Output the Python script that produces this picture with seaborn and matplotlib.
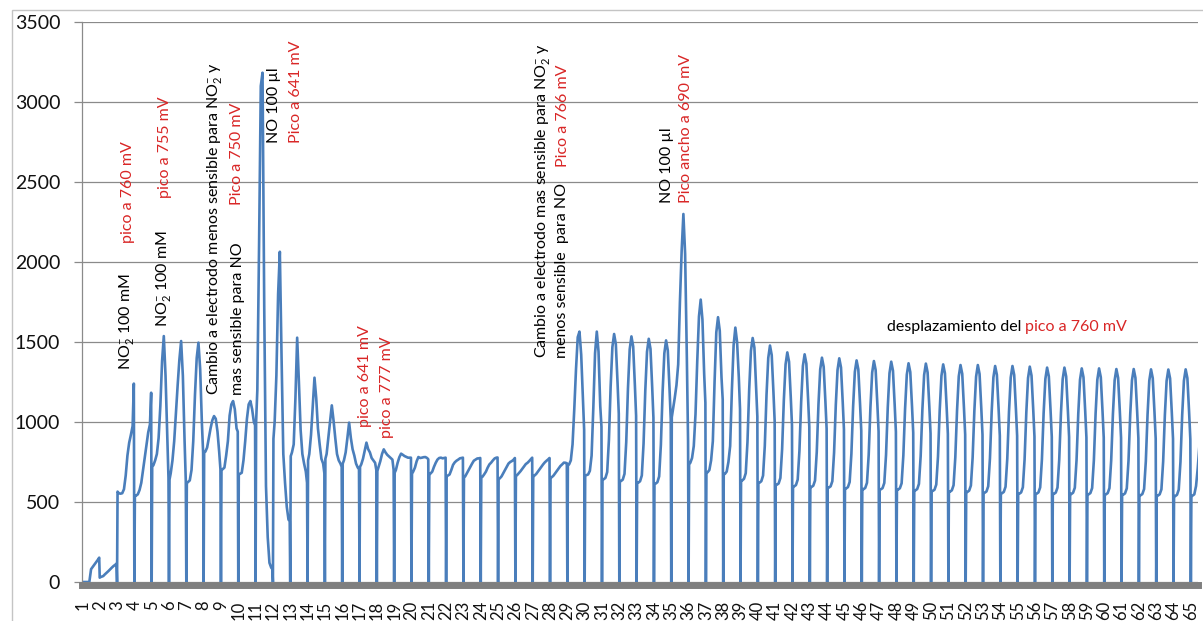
import matplotlib
matplotlib.use("Agg")
import matplotlib.pyplot as plt
import pandas as pd
import seaborn as sns
from matplotlib.patches import Rectangle

# Sample positions inside one cycle, as a fraction of the interval between two
# consecutive marks (the signal falls to the baseline at each mark).
fase = [0.0, 0.03, 0.1, 0.2, 0.3, 0.4, 0.5, 0.6, 0.7, 0.8, 0.9, 0.97]

# Cycles 1-12: NO2- additions and first NO injection
ciclos_nitrito = [
    [0, 0, 0, 0, 0, 0, 80, 95, 110, 125, 140, 152],
    [27, 30, 33, 37, 48, 58, 68, 79, 90, 100, 108, 115],
    [0, 565, 555, 552, 555, 580, 665, 790, 870, 920, 975, 1240],
    [0, 537, 540, 548, 575, 620, 700, 775, 860, 935, 985, 1183],
    [0, 720, 730, 760, 800, 900, 1100, 1380, 1537, 1290, 920, 650],
    [0, 640, 680, 760, 880, 1060, 1230, 1390, 1506, 1290, 880, 630],
    [0, 620, 625, 635, 700, 880, 1170, 1400, 1496, 1330, 990, 810],
    [0, 808, 815, 840, 900, 960, 1010, 1037, 1020, 940, 810, 704],
    [0, 700, 705, 715, 790, 880, 1040, 1110, 1131, 1080, 960, 940],
    [0, 673, 676, 683, 760, 880, 1020, 1110, 1131, 1080, 1000, 980],
    [0, 1000, 1200, 2100, 3100, 3183, 1700, 600, 280, 120, 90, 80],
    [0, 895, 1000, 1290, 1800, 2064, 1400, 800, 620, 470, 390, 380],
]

# Cycles 13-29: decay after the NO injection and plateau
ciclos_meseta = [
    [0, 787, 810, 860, 1150, 1527, 1250, 950, 800, 740, 690, 620],
    [0, 760, 800, 920, 1100, 1277, 1150, 960, 860, 770, 740, 680],
    [0, 770, 800, 900, 1000, 1104, 1010, 900, 800, 760, 740, 720],
    [0, 740, 760, 810, 900, 996, 900, 830, 790, 740, 715, 705],
    [0, 720, 735, 770, 820, 871, 830, 810, 775, 760, 745, 700],
    [0, 694, 720, 755, 800, 829, 810, 795, 785, 775, 765, 700],
    [0, 683, 700, 745, 780, 802, 795, 787, 782, 777, 777, 777],
    [0, 677, 690, 715, 755, 781, 775, 777, 780, 781, 775, 767],
    [0, 673, 678, 690, 720, 745, 765, 775, 777, 773, 775, 777],
    [0, 662, 665, 672, 700, 732, 748, 758, 765, 773, 775, 777],
    [0, 652, 660, 680, 700, 720, 740, 758, 765, 772, 773, 775],
    [0, 652, 658, 673, 690, 715, 735, 746, 760, 772, 777, 778],
    [0, 642, 648, 660, 680, 700, 720, 740, 750, 756, 765, 775],
    [0, 662, 668, 680, 693, 708, 722, 737, 745, 756, 768, 777],
    [0, 660, 665, 675, 690, 705, 720, 735, 748, 758, 767, 775],
    [0, 651, 655, 665, 680, 695, 710, 725, 735, 746, 745, 742],
    [0, 728, 735, 760, 860, 1080, 1330, 1530, 1565, 1420, 1150, 950],
]

# Cycles 30-65: second electrode, second NO injection and peak drift
ciclos_no = [
    [0, 665, 668, 672, 695, 790, 1090, 1430, 1565, 1440, 1100, 970],
    [0, 642, 642, 651, 687, 887, 1223, 1468, 1550, 1486, 1241, 1051],
    [0, 631, 631, 640, 676, 875, 1210, 1454, 1535, 1472, 1228, 1038],
    [0, 621, 621, 630, 666, 864, 1196, 1439, 1520, 1457, 1214, 1026],
    [0, 615, 615, 624, 660, 857, 1188, 1429, 1510, 1447, 1206, 1018],
    [0, 1030, 1080, 1150, 1230, 1360, 1750, 2069, 2300, 2050, 1400, 880],
    [0, 735, 745, 775, 850, 1050, 1380, 1660, 1765, 1640, 1300, 1120],
    [0, 683, 686, 700, 760, 880, 1250, 1560, 1655, 1570, 1280, 1140],
    [0, 673, 676, 690, 750, 850, 1200, 1480, 1590, 1500, 1280, 1080],
    [0, 635, 635, 645, 680, 875, 1205, 1445, 1525, 1465, 1220, 1035],
    [0, 621, 621, 630, 665, 850, 1170, 1400, 1478, 1418, 1185, 1005],
    [0, 608, 608, 616, 650, 830, 1137, 1360, 1435, 1377, 1154, 980],
    [0, 598, 598, 606, 640, 820, 1126, 1350, 1423, 1365, 1143, 970],
    [0, 594, 594, 602, 634, 812, 1111, 1329, 1402, 1345, 1127, 958],
    [0, 590, 590, 598, 630, 808, 1107, 1325, 1398, 1341, 1123, 954],
    [0, 585, 585, 593, 625, 801, 1097, 1313, 1385, 1329, 1113, 945],
    [0, 580, 580, 588, 620, 796, 1093, 1309, 1381, 1325, 1109, 940],
    [0, 579, 579, 587, 619, 794, 1090, 1305, 1377, 1321, 1106, 938],
    [0, 578, 578, 586, 617, 791, 1083, 1296, 1367, 1312, 1099, 933],
    [0, 573, 573, 581, 613, 787, 1080, 1294, 1365, 1310, 1096, 929],
    [0, 569, 569, 577, 609, 783, 1075, 1289, 1360, 1305, 1091, 925],
    [0, 565, 565, 573, 605, 779, 1071, 1285, 1356, 1301, 1087, 921],
    [0, 563, 563, 571, 603, 777, 1069, 1283, 1356, 1300, 1086, 920],
    [0, 558, 558, 566, 598, 772, 1065, 1279, 1350, 1295, 1081, 914],
    [0, 555, 555, 563, 595, 770, 1064, 1278, 1350, 1294, 1080, 913],
    [0, 552, 552, 560, 592, 766, 1060, 1275, 1346, 1290, 1076, 909],
    [0, 552, 552, 560, 591, 765, 1056, 1269, 1340, 1285, 1072, 907],
    [0, 551, 551, 559, 590, 764, 1055, 1268, 1340, 1285, 1071, 906],
    [0, 550, 550, 558, 589, 762, 1052, 1264, 1335, 1280, 1068, 903],
    [0, 548, 548, 556, 587, 760, 1052, 1264, 1335, 1280, 1067, 902],
    [0, 548, 548, 556, 587, 759, 1049, 1261, 1331, 1276, 1065, 900],
    [0, 546, 546, 554, 585, 758, 1048, 1260, 1331, 1276, 1064, 899],
    [0, 542, 542, 550, 581, 754, 1046, 1258, 1329, 1274, 1061, 896],
    [0, 540, 540, 548, 579, 752, 1044, 1257, 1328, 1273, 1059, 895],
    [0, 537, 537, 545, 577, 751, 1044, 1258, 1329, 1274, 1060, 893],
    [0, 537, 540, 548, 600, 715, 860],
]

etiquetas_x = [str(i) for i in range(1, 66)]
valores_y = [0, 500, 1000, 1500, 2000, 2500, 3000, 3500]

AZUL = "#4a7ebb"
ROJO = "#d92626"
GRIS = "#8a8a8a"

# ---- long-format table: one row per sample ----
ciclos = ciclos_nitrito + ciclos_meseta + ciclos_no
t, senal = [], []
for k, fila in enumerate(ciclos, start=1):
    for f, v in zip(fase, fila):
        t.append(k + f)
        senal.append(v)
df = pd.DataFrame({"ciclo": t, "senal": senal})

sns.set_theme(style="white")
plt.rcParams["font.family"] = ["Lato", "DejaVu Sans"]
plt.rcParams["mathtext.fontset"] = "custom"
plt.rcParams["mathtext.rm"] = "Lato"
plt.rcParams["mathtext.it"] = "Lato:italic"
plt.rcParams["mathtext.default"] = "regular"

W, H = 1203, 621
fig = plt.figure(figsize=(W / 100, H / 100), dpi=100)
fig.patch.set_facecolor("white")
ax = fig.add_axes([82.4 / W, 1 - 582 / H, (1198.3 - 82.4) / W, (582 - 22) / H])

sns.lineplot(data=df, x="ciclo", y="senal", ax=ax, color=AZUL,
             linewidth=1.9, estimator=None, sort=False)

ax.set_xlim(1, 65.43)
ax.set_ylim(valores_y[0], valores_y[-1])
ax.set_yticks(valores_y)
ax.set_yticklabels([str(v) for v in valores_y])
ax.set_xticks(range(1, 66))
ax.set_xticklabels(etiquetas_x)
ax.set_xlabel("")
ax.set_ylabel("")

ax.grid(axis="y", color=GRIS, linewidth=0.9)
ax.grid(axis="x", visible=False)
ax.set_axisbelow(True)
for s in ("top", "right"):
    ax.spines[s].set_visible(False)
ax.spines["left"].set_color(GRIS)
ax.spines["left"].set_linewidth(0.9)
ax.spines["bottom"].set_color("#7f7f7f")
ax.spines["bottom"].set_linewidth(5)
ax.spines["bottom"].set_position(("outward", 2.5))

ax.tick_params(axis="y", length=6, width=0.9, color=GRIS, pad=10,
               labelsize=14, labelcolor="#111111", left=True)
ax.tick_params(axis="x", length=0, pad=11, labelsize=12, labelcolor="#111111",
               labelrotation=90)

# ---- annotations ----
fs = 11.5
notas = [
    (3.575, 1325, r"NO$_2^{-}$ 100 mM", "black"),
    (5.71, 1594, r"NO$_2^{-}$ 100 mM", "black"),
    (3.63, 2119, "pico a 760 mV", ROJO),
    (5.77, 2400, "pico a 755 mV", ROJO),
    (8.65, 1169, r"Cambio a electrodo menos sensible para NO$_2^{-}$ y", "black"),
    (9.98, 1169, "mas sensible para NO", "black"),
    (9.93, 2356, "Pico a 750 mV", ROJO),
    (12.06, 2744, "NO 100 µl", "black"),
    (13.33, 2744, "Pico a 641 mV", ROJO),
    (17.31, 969, "pico a 641 mV", ROJO),
    (18.58, 900, "pico a 777 mV", ROJO),
    (27.54, 1400, r"Cambio a electrodo mas sensible para NO$_2^{-}$ y", "black"),
    (28.69, 1400, "menos sensible  para NO", "black"),
    (28.75, 2594, "Pico a 766 mV", ROJO),
    (34.74, 2369, "NO 100 µl", "black"),
    (35.85, 2369, "Pico ancho a 690 mV", ROJO),
]
for x, y, s, c in notas:
    ax.text(x, y, s, rotation=90, ha="center", va="bottom", color=c,
            fontsize=fs)

negro = ax.text(47.45, 1594, "desplazamiento del ", ha="left", va="center",
                color="black", fontsize=fs)
ax.annotate("pico a 760 mV", xy=(1, 0.5), xycoords=negro, ha="left",
            va="center", color=ROJO, fontsize=fs)

# light frame around the chart area
fig.add_artist(Rectangle((12 / W, -0.1), 1.2, 1 - 10 / H + 0.1,
                         transform=fig.transFigure, fill=False,
                         edgecolor="#c4c4c4", linewidth=1))

fig.savefig("out.png", dpi=100, facecolor="white")
